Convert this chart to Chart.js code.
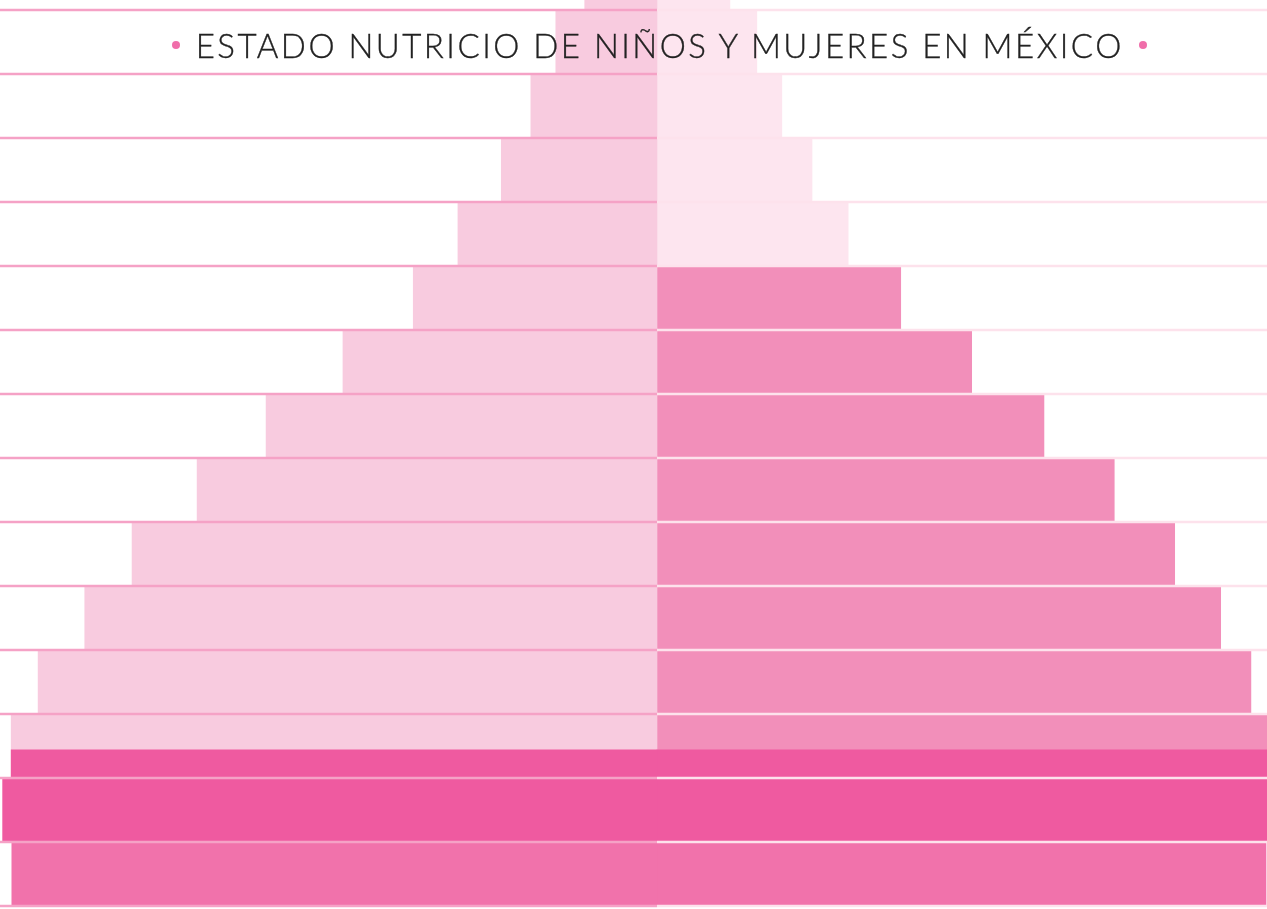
<!DOCTYPE html>
<html>
<head>
<meta charset="utf-8">
<script src="https://cdn.jsdelivr.net/npm/chart.js@4.4.1/dist/chart.umd.min.js"></script>
<style>
  html, body { margin: 0; padding: 0; background: #ffffff; overflow: hidden; }
  body { width: 1267px; height: 909px; position: relative; }
  #wrap { position: absolute; left: 0; top: -54px; width: 1267px; height: 966px; }
  #wrap canvas { display: block; width: 1267px !important; height: 966px !important; }
  #title {
    position: absolute; left: 26px; top: 25px; width: 1267px; height: 40px;
    display: flex; justify-content: center; align-items: center;
    font-family: Lato, "Open Sans", sans-serif; font-weight: 300;
    font-size: 33px; color: #222222; white-space: nowrap; line-height: 40px;
    -webkit-text-stroke: 0.35px #222222;
  }
  #title .dot { display: inline-block; width: 8px; height: 8px; border-radius: 50%; background: #f06eaa; }
  #title .dot.l { margin-right: 16px; }
  #title .dot.r { margin-left: 18px; }
</style>
</head>
<body>
<div id="wrap"><canvas id="c"></canvas></div>
<div id="title"><span class="dot l"></span><span id="tt">ESTADO NUTRICIO DE NIÑOS Y MUJERES EN MÉXICO</span><span class="dot r"></span></div>
<script>
// ---- data ----
const rowIndex    = [0, 1, 2, 3, 4, 5, 6, 7, 8, 9, 10, 11, 12, 13, 14];
const leftValues  = [11.0, 15.4, 19.2, 23.7, 30.3, 37.1, 47.8, 59.5, 70.0, 79.9, 87.1, 94.2, 98.3, 99.6, 98.2];
const rightValues = [11.1, 15.2, 19.0, 23.6, 29.1, 37.1, 47.9, 58.9, 69.6, 78.8, 85.8, 90.4, 95.0, 95.0, 92.7];
const bandRow   = [12.28];
const bandLeft  = [98.3];
const bandRight = [95.0];

// ---- styles ----
const LIGHT = '#f8cbdf', PALE = '#fde5ef', MED = '#f28fba', HOT = '#ef5aa0', ROSE = '#f172ab';
const leftColors  = rowIndex.map(i => i === 13 ? HOT : (i === 14 ? ROSE : LIGHT));
const rightColors = rowIndex.map(i => i === 13 ? HOT : (i === 14 ? ROSE : (i < 5 ? PALE : MED)));

const rowLines = {
  id: 'rowLines',
  afterDatasetsDraw(chart) {
    const {ctx, chartArea, scales} = chart;
    const xs = scales.x, ys = scales.y;
    const mid = xs.getPixelForValue(0);
    ctx.save();
    ctx.lineWidth = 2.5;
    rowIndex.forEach(i => {
      const y = ys.getPixelForValue(i + 0.5);
      ctx.strokeStyle = '#f5a2c6';
      ctx.beginPath(); ctx.moveTo(chartArea.left, y); ctx.lineTo(mid, y); ctx.stroke();
      ctx.strokeStyle = '#fde2ec';
      ctx.beginPath(); ctx.moveTo(mid, y); ctx.lineTo(chartArea.right, y); ctx.stroke();
    });
    ctx.restore();
  }
};

new Chart(document.getElementById('c'), {
  type: 'bar',
  data: {
    datasets: [
      { label: 'banda izq', stack: 'p', barThickness: 28, backgroundColor: HOT,
        data: bandRow.map((r, i) => ({ x: -bandLeft[i], y: r })) },
      { label: 'banda der', stack: 'p', barThickness: 28, backgroundColor: HOT,
        data: bandRow.map((r, i) => ({ x: bandRight[i], y: r })) },
      { label: 'izquierda', stack: 'p', barThickness: 64, backgroundColor: leftColors,
        data: rowIndex.map((r, i) => ({ x: -leftValues[i], y: r })) },
      { label: 'derecha', stack: 'p', barThickness: 64, backgroundColor: rightColors,
        data: rowIndex.map((r, i) => ({ x: rightValues[i], y: r })) }
    ]
  },
  options: {
    indexAxis: 'y',
    responsive: true,
    maintainAspectRatio: false,
    animation: false,
    devicePixelRatio: 1,
    layout: { padding: { left: 0, right: 0, top: 0, bottom: 6 } },
    plugins: { legend: { display: false }, title: { display: false }, tooltip: { enabled: false } },
    scales: {
      x: { type: 'linear', stacked: true, min: -100, max: 92.85, display: false, offset: false },
      y: { type: 'linear', reverse: true, min: -0.5, max: 14.5, display: false, offset: false, grid: { offset: false } }
    }
  },
  plugins: [rowLines]
});

// fit title width to reference span
(function () {
  const tt = document.getElementById('tt');
  const target = 928;
  const w = tt.getBoundingClientRect().width;
  const n = tt.textContent.length;
  const ls = (target - w) / n;
  tt.style.letterSpacing = ls + 'px';
  tt.style.marginRight = (-ls) + 'px';
})();
</script>
</body>
</html>
